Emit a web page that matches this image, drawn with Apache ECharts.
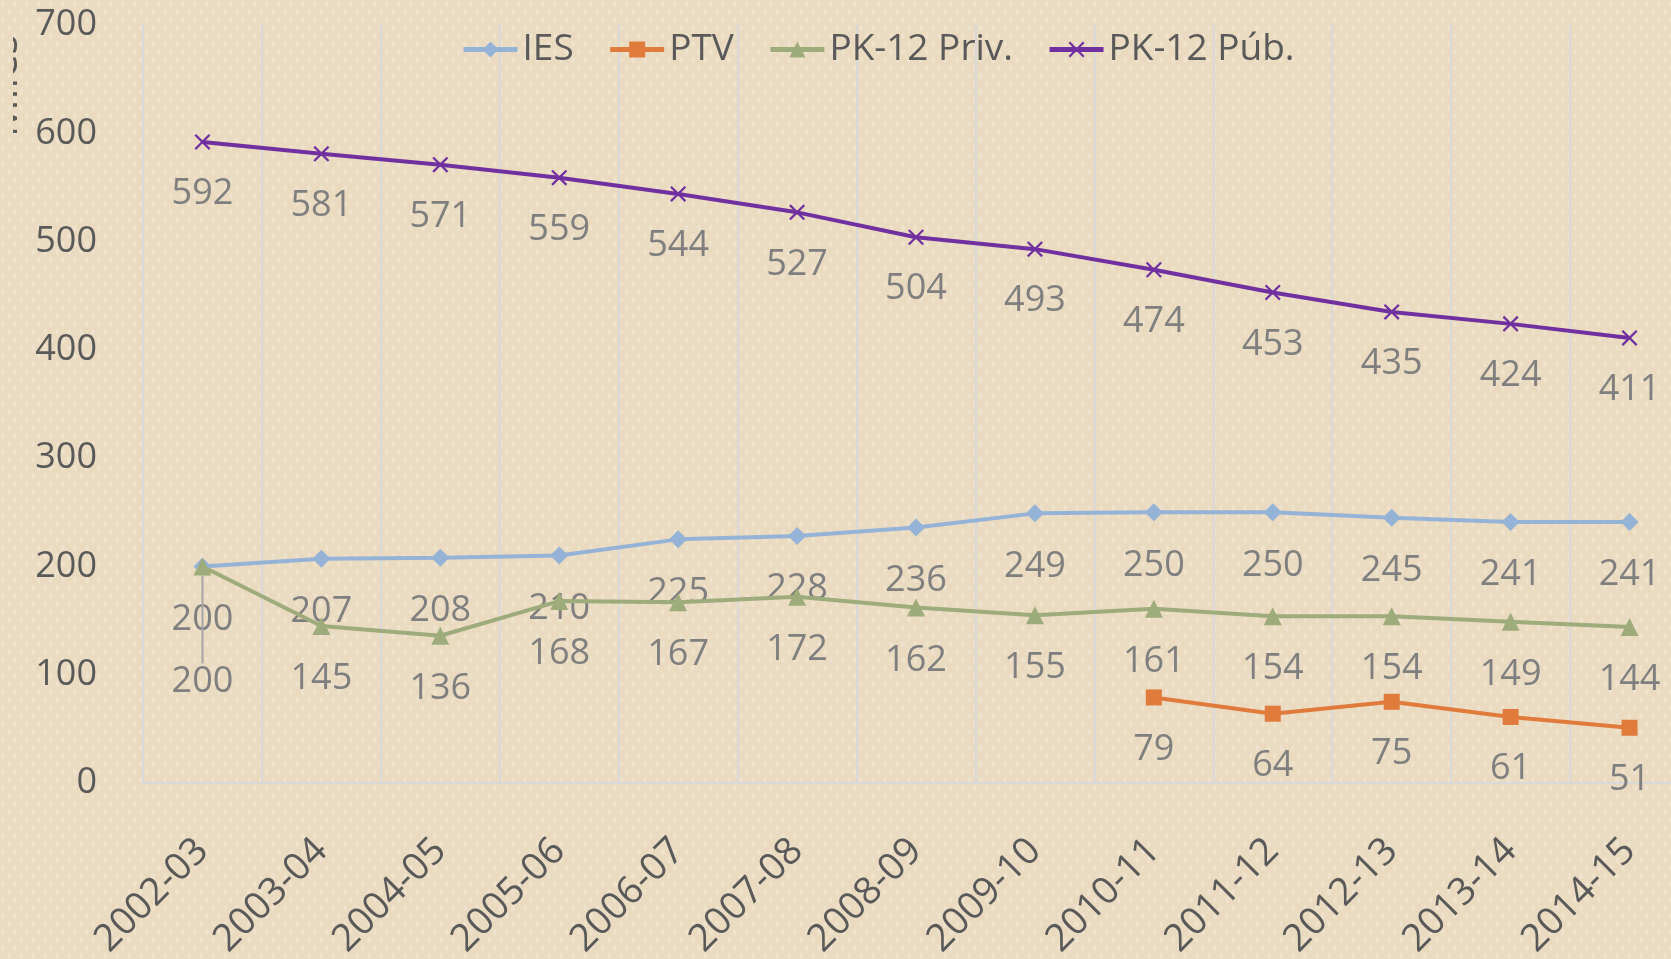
<!DOCTYPE html>
<html>
<head>
<meta charset="utf-8">
<script src="https://cdn.jsdelivr.net/npm/echarts@6/dist/echarts.min.js"></script>
<style>
  html, body { margin: 0; padding: 0; background: #EADBBF; }
  #chart { width: 1671px; height: 959px; }
</style>
</head>
<body>
<div id="chart"></div>
<script>
  // datos
  var categories = ['2002-03', '2003-04', '2004-05', '2005-06', '2006-07', '2007-08', '2008-09',
    '2009-10', '2010-11', '2011-12', '2012-13', '2013-14', '2014-15'];
  var ies = [200, 207, 208, 210, 225, 228, 236, 249, 250, 250, 245, 241, 241];
  var ptv = [null, null, null, null, null, null, null, null, 79, 64, 75, 61, 51];
  var pkPriv = [200, 145, 136, 168, 167, 172, 162, 155, 161, 154, 154, 149, 144];
  var pkPub = [592, 581, 571, 559, 544, 527, 504, 493, 474, 453, 435, 424, 411];
  var yTicks = [0, 100, 200, 300, 400, 500, 600, 700];

  var font = '"Open Sans", "Noto Sans", sans-serif';
  var colors = ['#95B3D7', '#E07B3C', '#9EAB7A', '#7030A0'];

  // textura suave del fondo
  var pat = document.createElement('canvas');
  pat.width = 12; pat.height = 16;
  var ctx = pat.getContext('2d');
  ctx.fillStyle = '#E9DAC0';
  ctx.fillRect(0, 0, 12, 16);
  ctx.fillStyle = '#EEE2CC';
  ctx.beginPath(); ctx.ellipse(3, 4, 2, 3, 0, 0, Math.PI * 2); ctx.fill();
  ctx.beginPath(); ctx.ellipse(9, 12, 2, 3, 0, 0, Math.PI * 2); ctx.fill();

  var xSymbol = 'path://M1,0 L5,4 L9,0 L10,1 L6,5 L10,9 L9,10 L5,6 L1,10 L0,9 L4,5 L0,1 Z';

  function labelStyle() {
    return {
      show: true,
      position: 'bottom',
      distance: 26,
      color: '#7F7F7F',
      fontFamily: font,
      fontSize: 36
    };
  }

  var myChart = echarts.init(document.getElementById('chart'));
  var option = {
    backgroundColor: { image: pat, repeat: 'repeat' },
    animation: false,
    color: colors,
    legend: {
      left: 456,
      top: 26,
      itemWidth: 54,
      itemHeight: 20,
      itemGap: 34,
      lineStyle: { width: 5 },
      textStyle: { color: '#595959', fontFamily: font, fontSize: 37 },
      data: ['IES', 'PTV', 'PK-12 Priv.', 'PK-12 Púb.']
    },
    grid: { left: 143, top: 25, width: 1546, height: 758, outerBoundsMode: 'none', containLabel: false },
    xAxis: {
      type: 'category',
      boundaryGap: true,
      data: categories,
      axisLine: { show: true, lineStyle: { color: '#D9D9D9', width: 2 } },
      axisTick: { show: false },
      splitLine: { show: true, lineStyle: { color: '#D9D9D9', width: 2 } },
      axisLabel: {
        rotate: 45,
        margin: 62,
        interval: 0,
        color: '#595959',
        fontFamily: font,
        fontSize: 38
      }
    },
    yAxis: {
      type: 'value',
      min: yTicks[0],
      max: yTicks[yTicks.length - 1],
      interval: 100,
      axisLine: { show: false },
      axisTick: { show: false },
      splitLine: { show: false },
      axisLabel: {
        margin: 46,
        color: '#595959',
        fontFamily: font,
        fontSize: 36
      }
    },
    graphic: [
      {
        type: 'text',
        x: -16,
        y: 137,
        rotation: Math.PI / 2,
        z: 10,
        style: { text: 'Miles', fill: '#595959', font: '42px ' + font }
      },
      {
        // el título del eje queda recortado en el original
        type: 'rect',
        z: 20,
        shape: { x: 0, y: 20, width: 13, height: 130 },
        style: { fill: { image: pat, repeat: 'repeat' } }
      }
    ],
    series: [
      {
        name: 'IES',
        type: 'line',
        data: ies,
        symbol: 'diamond',
        symbolSize: 18,
        lineStyle: { width: 4 },
        label: labelStyle(),
        z: 3
      },
      {
        name: 'PTV',
        type: 'line',
        data: ptv,
        symbol: 'rect',
        symbolSize: 16,
        lineStyle: { width: 4 },
        label: labelStyle(),
        z: 3
      },
      {
        name: 'PK-12 Priv.',
        type: 'line',
        data: pkPriv.map(function (v, i) {
          if (i === 0) {
            return { value: v, labelLine: { show: true, lineStyle: { color: '#A6A6A6', width: 2 } } };
          }
          return v;
        }),
        symbol: 'triangle',
        symbolSize: 18,
        lineStyle: { width: 4 },
        label: labelStyle(),
        labelLayout: function (params) {
          if (params.dataIndex === 0) {
            return { dy: 62 };
          }
        },
        z: 4
      },
      {
        name: 'PK-12 Púb.',
        type: 'line',
        data: pkPub,
        symbol: xSymbol,
        symbolSize: 16,
        lineStyle: { width: 4 },
        label: labelStyle(),
        z: 3
      }
    ]
  };
  myChart.setOption(option);
</script>
</body>
</html>
